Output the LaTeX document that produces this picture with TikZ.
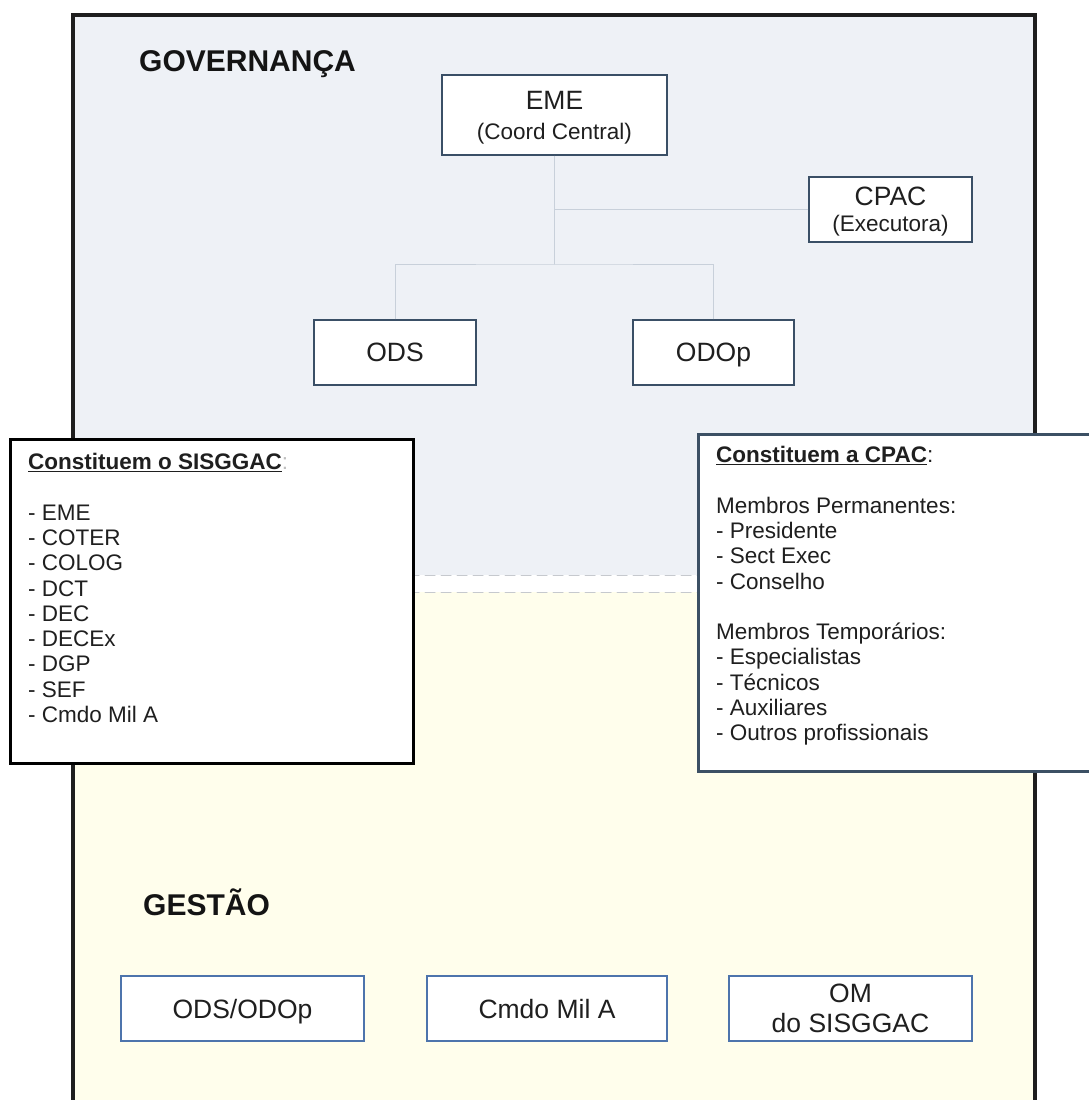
\documentclass[tikz,border=0pt]{standalone}
\usepackage{fontspec}
\setmainfont{Liberation Sans}
\definecolor{govfill}{HTML}{EEF1F6}
\definecolor{gestfill}{HTML}{FFFEEC}
\definecolor{govblue}{HTML}{3A4F66}
\definecolor{gestblue}{HTML}{4D74AC}
\definecolor{linkgray}{HTML}{C8D0DA}
\definecolor{dashgray}{HTML}{C6C9CE}
\definecolor{framegray}{HTML}{1E1E1E}
\definecolor{listslate}{HTML}{3C5064}
\begin{document}
\begin{tikzpicture}[x=1pt,y=-1pt,line cap=round,
    govbox/.style={draw=govblue,line width=2.8pt,fill=white,inner sep=0pt,minimum height=65pt,
      text depth=0pt,align=center,text=black!88,font=\fontsize{26.5}{30}\selectfont},
    gestbox/.style={draw=gestblue,line width=2.4pt,fill=white,inner sep=0pt,minimum width=242pt,
      minimum height=65pt,text depth=0pt,align=center,text=black!88,font=\fontsize{26.5}{30}\selectfont},
    link/.style={draw=linkgray,line width=1pt},
    listbox/.style={fill=white,line width=3pt,inner sep=0pt,anchor=north west},
    listtext/.style={anchor=north west,inner sep=0pt,align=left,text=black!88,
      font=\fontsize{22.5}{25.3}\selectfont},
    zone/.style={anchor=base west,inner sep=0pt,text=black!92,font=\fontsize{30}{36}\selectfont\bfseries}]
  \useasboundingbox (0,0) rectangle (1089,1100);
  \fill[white] (0,0) rectangle (1089,1100);
  \fill[govfill] (73,15) rectangle (1035,575);
  \fill[gestfill] (73,592) rectangle (1035,1100);
  \draw[dashgray,line width=1pt,dash pattern=on 10pt off 6pt] (73,575) -- (1035,575) (73,592) -- (1035,592);
  \draw[framegray,line width=3.5pt] (73,1104) -- (73,15) -- (1035,15) -- (1035,1104);

  \node[zone] (gov) at (139,71) {GOVERNANÇA};
  \node[zone] (gest) at (143,915) {GESTÃO};

  \node[govbox,minimum width=225pt,minimum height=80pt] (eme) at (554.5,115)
    {EME\\{\fontsize{22.5}{30}\selectfont(Coord Central)}};
  \node[govbox,minimum width=163pt] (cpac) at (890.5,209.5)
    {CPAC\\[-4pt]{\fontsize{22.5}{30}\selectfont(Executora)}};
  \node[govbox,minimum width=162pt] (ods) at (395,352.5) {ODS};
  \node[govbox,minimum width=161pt] (odop) at (713.5,352.5) {ODOp};

  \coordinate (split) at (554.5,264);
  \draw[link] (eme.south) -- (split);
  \draw[link] (eme.south |- cpac.west) -- (cpac.west);
  \draw[link] (ods.north) |- (split) -| (odop.north);

  \node[listbox,draw=black,minimum width=403pt,minimum height=324pt] (sisggac) at (9,438) {};
  \node[listtext] (sisggactxt) at ([xshift=19pt,yshift=-15pt]sisggac.north west)
    {\underline{\textbf{Constituem o SISGGAC}}{\color{gray!50}:}\\[25.3pt]
     - EME\\ - COTER\\ - COLOG\\ - DCT\\ - DEC\\ - DECEx\\ - DGP\\ - SEF\\ - Cmdo Mil A};

  \node[listbox,draw=listslate,minimum width=410pt,minimum height=337pt] (cpacbox) at (697,433) {};
  \node[listtext] (cpactxt) at ([xshift=19pt,yshift=-13pt]cpacbox.north west)
    {\underline{\textbf{Constituem a CPAC}}:\\[25.3pt]
     Membros Permanentes:\\ - Presidente\\ - Sect Exec\\ - Conselho\\[25.3pt]
     Membros Temporários:\\ - Especialistas\\ - Técnicos\\ - Auxiliares\\ - Outros profissionais};

  \node[gestbox,minimum width=243pt] (odsodop) at (242.5,1008.5) {ODS/ODOp};
  \node[gestbox,minimum width=240pt] (cmdo) at (547,1008.5) {Cmdo Mil A};
  \node[gestbox,minimum width=243pt] (om) at (850.5,1008.5) {OM\\do SISGGAC};
\end{tikzpicture}
\end{document}
